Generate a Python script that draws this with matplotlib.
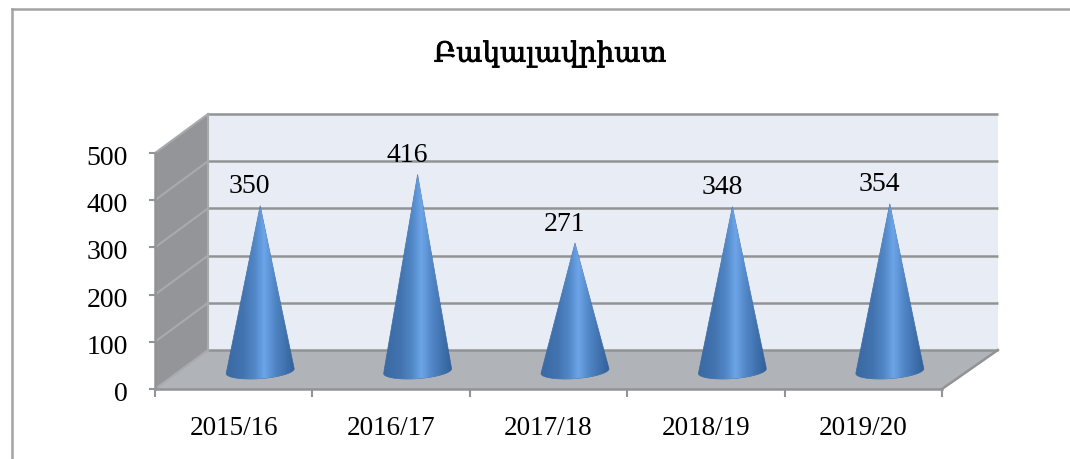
import matplotlib
matplotlib.use("Agg")
import matplotlib.pyplot as plt
import matplotlib.patheffects as pe
import matplotlib.transforms as mtrans
import numpy as np
from matplotlib.colors import LinearSegmentedColormap
from matplotlib.lines import Line2D
from matplotlib.patches import Polygon

plt.rcParams["font.family"] = ["Liberation Serif", "DejaVu Serif"]
plt.rcParams["font.size"] = 20

# Data
title = "Բակալավրիատ"
years = ["2015/16", "2016/17", "2017/18", "2018/19", "2019/20"]
values = [350, 416, 271, 348, 354]
y_ticks = [0, 100, 200, 300, 400, 500]

W, H = 1070, 460
GRID = "#929395"

fig = plt.figure(figsize=(W / 100, H / 100), dpi=100)
ax = fig.add_axes([155 / W, (H - 390) / H, (942 - 155) / W, (390 - 154) / H])
ax.set_xlim(0, len(years))
ax.set_ylim(0, 500)

# depth of the fake 3d box, in data units
dx = 53 / (787 / 5)
dy = 39 / (236 / 500)
n = len(years)

# walls and floor
ax.add_patch(Polygon([(0, 0), (dx, dy), (dx, 500 + dy), (0, 500)], fc="#949598", ec="none", clip_on=False, zorder=1))
ax.add_patch(Polygon([(dx, dy), (n + 0.355, dy), (n + 0.355, 500 + dy), (dx, 500 + dy)], fc="#e7ecf5", ec="none", clip_on=False, zorder=1))
ax.add_patch(Polygon([(0, 0), (dx, dy), (n + 0.355, dy), (n, 0)], fc="#b0b3b7", ec="none", clip_on=False, zorder=1))

for t in y_ticks:
    ax.plot([dx, n + 0.355], [t + dy, t + dy], color=GRID, lw=1.8, clip_on=False, zorder=2, solid_capstyle="butt")
    if t > 0:
        ax.plot([0, dx], [t, t + dy], color="#a9aaad", lw=1.5, clip_on=False, zorder=2)
ax.plot([0, dx], [0, dy], color="#a9aaad", lw=1.5, clip_on=False, zorder=2)
ax.plot([dx, dx], [dy, 500 + dy], color="#a9aaad", lw=1.5, clip_on=False, zorder=2)
ax.plot([n, n + 0.355], [0, dy], color=GRID, lw=1.8, clip_on=False, zorder=2)

# cones, horizontal shading clipped to the outline
cone_cmap = LinearSegmentedColormap.from_list("cone", [
    (0.0, "#3a69a3"), (0.25, "#4374b0"), (0.42, "#5288c8"), (0.55, "#6ca5e8"),
    (0.72, "#4f84c4"), (0.9, "#3c6da8"), (1.0, "#32609a")])
grad = np.linspace(0, 1, 256).reshape(1, -1)
half_w = 34 / (787 / 5)
cone_y = 38
ell_h = 16
tilt = 5

for i, v in enumerate(values):
    cx = i + 0.5 + dx / 2
    t = np.linspace(np.pi, 2 * np.pi, 60)
    px = cx + half_w * np.cos(t)
    py = cone_y + ell_h * np.sin(t) + tilt * np.cos(t)
    outline = np.vstack([np.column_stack([px, py]), [cx, cone_y + v]])
    poly = Polygon(outline, fc="none", ec="#3a69a3", lw=0.5, joinstyle="round", clip_on=False, zorder=3)
    ax.add_patch(poly)
    im = ax.imshow(grad, extent=[cx - half_w, cx + half_w, 0, cone_y + v], cmap=cone_cmap,
                   aspect="auto", zorder=3, interpolation="bilinear")
    im.set_clip_path(poly)
    ax.annotate(str(v), xy=(cx, cone_y + v), xytext=(-7.5, 14.5), textcoords="offset points",
                ha="center", va="center", fontsize=20, color="black", zorder=5, annotation_clip=False)

ax.set_xlim(0, n)
ax.set_ylim(0, 500)

# axes
for s in ["top", "right"]:
    ax.spines[s].set_visible(False)
for s in ["left", "bottom"]:
    ax.spines[s].set_color(GRID)
    ax.spines[s].set_linewidth(1.8)
    ax.spines[s].set_zorder(2.5)
ax.patch.set_visible(False)
ax.set_xticks(range(n + 1))
ax.set_xticklabels([])
ax.set_xticks(np.arange(n) + 0.5, labels=years, minor=True)
ax.set_yticks(y_ticks)
ax.tick_params(axis="x", which="major", length=5.5, width=1.5, color=GRID, direction="out")
ax.tick_params(axis="x", which="minor", length=0, pad=19, labelsize=19.5)
ax.tick_params(axis="y", length=4.5, width=1.5, color=GRID, pad=15, labelsize=20)

# y labels sit a little lower than the tick
shift = mtrans.ScaledTranslation(0, -1.5 / 100, fig.dpi_scale_trans)
for lbl in ax.get_yticklabels():
    lbl.set_transform(lbl.get_transform() + shift)

tt = fig.text(550 / W, 1 - 55 / H, title, family=["DejaVu Serif"], fontsize=20, ha="center", va="center")
tt.set_path_effects([pe.withStroke(linewidth=0.6, foreground="black")])

# outer frame, only top and left are in the crop
fig.add_artist(Line2D([12 / W, 12 / W], [0, 1 - 9.5 / H], color="#a3a3a3", lw=1.8))
fig.add_artist(Line2D([12 / W, 1], [1 - 9.5 / H, 1 - 9.5 / H], color="#a3a3a3", lw=1.8))

fig.savefig("out.png", dpi=100)
